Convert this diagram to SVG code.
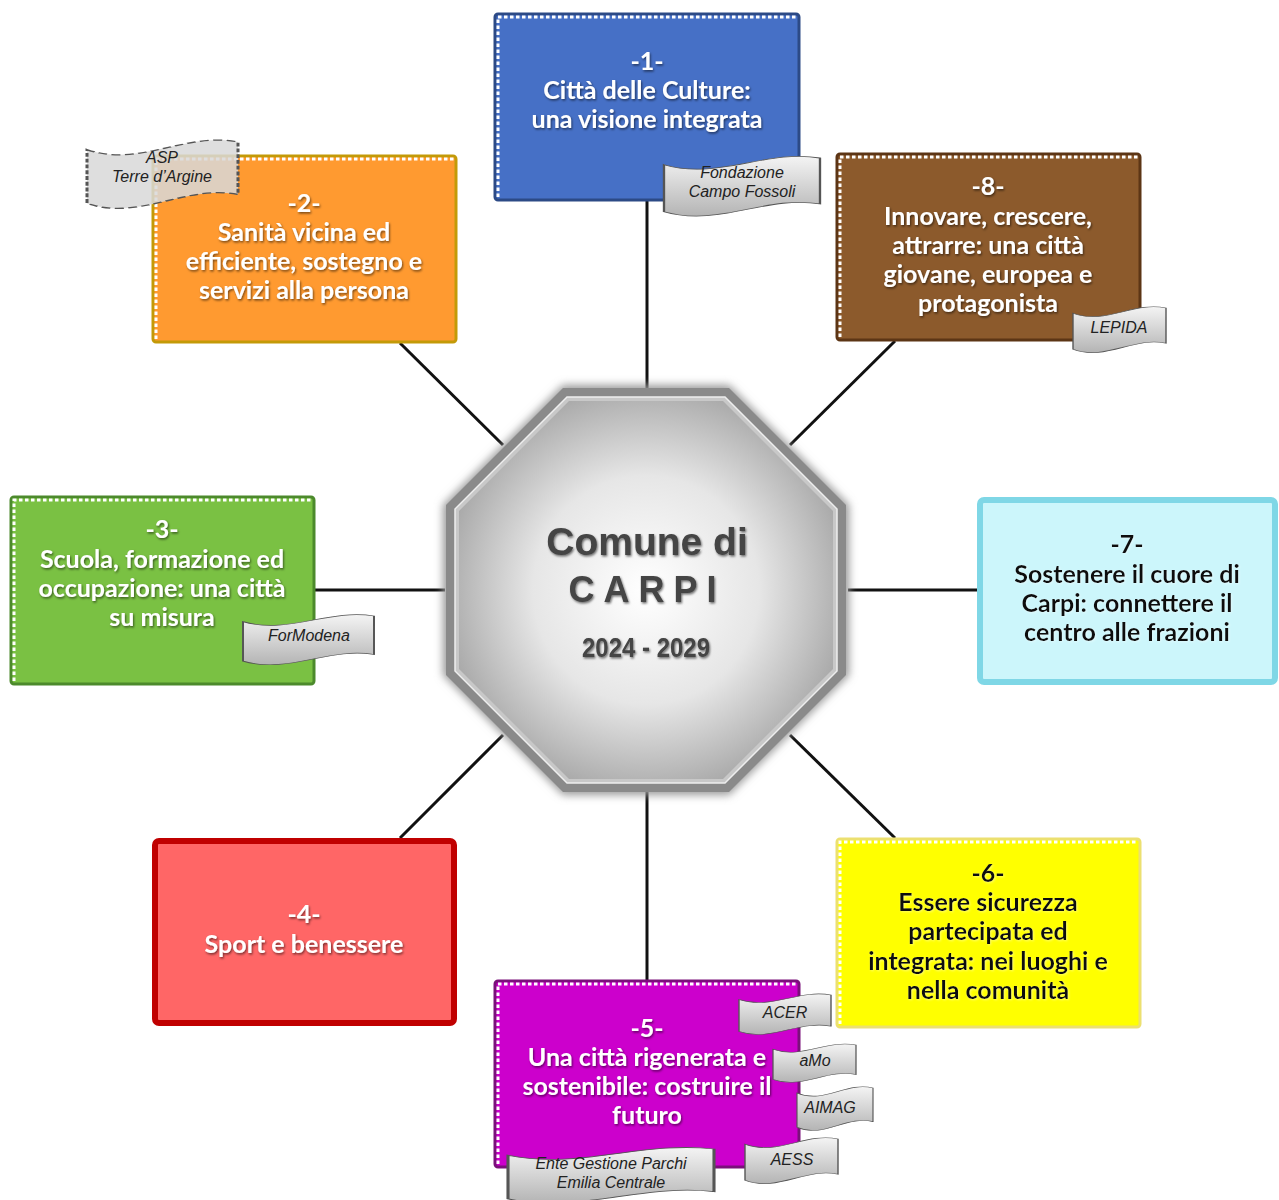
<svg xmlns="http://www.w3.org/2000/svg" xmlns:xlink="http://www.w3.org/1999/xlink" width="1279" height="1200" viewBox="0 0 1279 1200">
<style>
.t{font-family:Lato,"Liberation Sans",sans-serif;font-weight:bold;font-size:25px;text-anchor:middle;fill:#fff}
.tk{fill:#111}
.r{font-family:"Liberation Sans",Arial,sans-serif;font-style:italic;font-size:16px;text-anchor:middle;fill:#222}
.dot{fill:none;stroke:#fff;stroke-width:3;stroke-dasharray:3.5 2.5}
.con{stroke:#111;stroke-width:3;fill:none}
.rib{fill:url(#rg);stroke:#555;stroke-width:1.5}
</style>
<defs>
<filter id="sh" x="-10%" y="-20%" width="120%" height="140%"><feDropShadow dx="1" dy="1.5" stdDeviation="1" flood-color="#000" flood-opacity="0.55"/></filter>
<filter id="shl" x="-10%" y="-20%" width="120%" height="140%"><feDropShadow dx="1" dy="1" stdDeviation="0.8" flood-color="#fff" flood-opacity="0.4"/></filter>
<filter id="bl" x="-10%" y="-10%" width="120%" height="120%"><feGaussianBlur stdDeviation="4"/></filter>
<linearGradient id="rg" x1="0" y1="0" x2="0" y2="1"><stop offset="0" stop-color="#f4f4f4"/><stop offset="1" stop-color="#b4b4b4"/></linearGradient>
<radialGradient id="og" cx="0.5" cy="0.5" r="0.55"><stop offset="0" stop-color="#ffffff"/><stop offset="0.55" stop-color="#e6e6e6"/><stop offset="1" stop-color="#a8a8a8"/></radialGradient>
<path id="wave" d="M0,12 C35,40 65,-16 100,0 L100,82 C65,66 35,124 0,96 Z"/>
</defs>

<g id="connectors">
<line class="con" x1="647" y1="201" x2="647" y2="390"/>
<line class="con" x1="647" y1="792" x2="647" y2="980"/>
<line class="con" x1="315" y1="590" x2="445" y2="590"/>
<line class="con" x1="848" y1="590" x2="977" y2="590"/>
<line class="con" x1="400" y1="343" x2="503" y2="445"/>
<line class="con" x1="895" y1="341" x2="790" y2="445"/>
<line class="con" x1="400" y1="838" x2="503" y2="735"/>
<line class="con" x1="895" y1="838" x2="790" y2="735"/>
</g>

<g id="center">
<polygon points="563,385 729,385 849,505 849,675 729,795 563,795 443,675 443,505" fill="#999" filter="url(#bl)"/>
<polygon points="563,388 729,388 846,505 846,675 729,792 563,792 446,675 446,505" fill="#8a8a8a"/>
<polygon points="567,397 725,397 837,509 837,671 725,783 567,783 455,671 455,509" fill="#c8c8c8" stroke="#eeeeee" stroke-width="1.5"/>
<polygon points="569,401 723,401 833,511 833,669 723,779 569,779 459,669 459,511" fill="url(#og)"/>
<g filter="url(#sh)" fill="#444" font-family="Liberation Sans,Arial,sans-serif" font-weight="bold" text-anchor="middle">
<text x="647" y="555" font-size="39">Comune di</text>
<text x="647" y="602" font-size="36" letter-spacing="9">CARPI</text>
<text x="646" y="657" font-size="28" textLength="128" lengthAdjust="spacingAndGlyphs">2024 - 2029</text>
</g>
</g>

<g id="box1">
<rect x="495" y="14" width="304" height="186" rx="3" fill="#4670c6" stroke="#2c4a86" stroke-width="3"/>
<polyline class="dot" points="498,197 498,17 797,17"/>
<g filter="url(#sh)"><text class="t" x="647" y="70">-1-</text><text class="t" x="647" y="99">Città delle Culture:</text><text class="t" x="647" y="128">una visione integrata</text></g>
<use href="#wave" class="rib" transform="translate(664,158) scale(1.56,0.56)" stroke-width="2.6"/>
<text class="r" x="742" y="178">Fondazione</text><text class="r" x="742" y="197">Campo Fossoli</text>
</g>

<g id="box2">
<rect x="153" y="156" width="303" height="186" rx="3" fill="#ff9a30" stroke="#c39a08" stroke-width="3"/>
<polyline class="dot" points="156,339 156,159 454,159" stroke="#fff8c0"/>
<g filter="url(#sh)"><text class="t" x="304" y="212">-2-</text><text class="t" x="304" y="241">Sanità vicina ed</text><text class="t" x="304" y="270">efficiente, sostegno e</text><text class="t" x="304" y="299">servizi alla persona</text></g>
<use href="#wave" transform="translate(87,142) scale(1.51,0.64)" fill="#d8d8d8" fill-opacity="0.85" stroke="#555" stroke-width="2" stroke-dasharray="6 3"/>
<text class="r" x="162" y="163">ASP</text><text class="r" x="162" y="182">Terre d’Argine</text>
</g>

<g id="box8">
<rect x="837" y="154" width="303" height="186" rx="3" fill="#8c5a2c" stroke="#5c3515" stroke-width="3"/>
<polyline class="dot" points="840,337 840,157 1138,157"/>
<g filter="url(#sh)"><text class="t" x="988" y="195">-8-</text><text class="t" x="988" y="225">Innovare, crescere,</text><text class="t" x="988" y="254">attrarre: una città</text><text class="t" x="988" y="283">giovane, europea e</text><text class="t" x="988" y="312">protagonista</text></g>
<use href="#wave" class="rib" transform="translate(1073,308) scale(0.93,0.43)" stroke-width="3.5"/>
<text class="r" x="1119" y="333">LEPIDA</text>
</g>

<g id="box3">
<rect x="11" y="497" width="303" height="187" rx="3" fill="#7ac143" stroke="#4c8a2c" stroke-width="3"/>
<polyline class="dot" points="14,681 14,500 312,500"/>
<g filter="url(#sh)"><text class="t" x="162" y="538">-3-</text><text class="t" x="162" y="568">Scuola, formazione ed</text><text class="t" x="162" y="597">occupazione: una città</text><text class="t" x="162" y="626">su misura</text></g>
<use href="#wave" class="rib" transform="translate(243,616) scale(1.31,0.47)" stroke-width="3"/>
<text class="r" x="309" y="641">ForModena</text>
</g>

<g id="box7">
<rect x="980" y="500" width="295" height="182" rx="4" fill="#ccf6fb" stroke="#7fd7e6" stroke-width="6"/>
<g filter="url(#shl)"><text class="t tk" x="1127" y="553">-7-</text><text class="t tk" x="1127" y="583">Sostenere il cuore di</text><text class="t tk" x="1127" y="612">Carpi: connettere il</text><text class="t tk" x="1127" y="641">centro alle frazioni</text></g>
</g>

<g id="box4">
<rect x="155" y="841" width="299" height="182" rx="4" fill="#ff6666" stroke="#c00000" stroke-width="6"/>
<g filter="url(#sh)"><text class="t" x="304" y="923">-4-</text><text class="t" x="304" y="953">Sport e benessere</text></g>
</g>

<g id="box6">
<rect x="837" y="839" width="303" height="188" rx="3" fill="#ffff00" stroke="#ece070" stroke-width="3"/>
<polyline class="dot" points="840,1024 840,842 1138,842" stroke="#fffbe0"/>
<g filter="url(#shl)"><text class="t tk" x="988" y="882">-6-</text><text class="t tk" x="988" y="911">Essere sicurezza</text><text class="t tk" x="988" y="940">partecipata ed</text><text class="t tk" x="988" y="970">integrata: nei luoghi e</text><text class="t tk" x="988" y="999">nella comunità</text></g>
</g>

<g id="box5">
<rect x="495" y="981" width="304" height="186" rx="3" fill="#cc00cc" stroke="#7a107a" stroke-width="3"/>
<polyline class="dot" points="498,1164 498,984 797,984"/>
<g filter="url(#sh)"><text class="t" x="647" y="1037">-5-</text><text class="t" x="647" y="1066">Una città rigenerata e</text><text class="t" x="647" y="1095">sostenibile: costruire il</text><text class="t" x="647" y="1124">futuro</text></g>
<use href="#wave" class="rib" transform="translate(739,995) scale(0.92,0.38)" stroke-width="3.5"/>
<text class="r" x="785" y="1018">ACER</text>
<use href="#wave" class="rib" transform="translate(773,1045) scale(0.83,0.36)" stroke-width="3.5"/>
<text class="r" x="815" y="1066">aMo</text>
<use href="#wave" class="rib" transform="translate(797,1088) scale(0.76,0.41)" stroke-width="3.5"/>
<text class="r" x="830" y="1113">AIMAG</text>
<use href="#wave" class="rib" transform="translate(745,1139) scale(0.93,0.43)" stroke-width="3.5"/>
<text class="r" x="792" y="1165">AESS</text>
<use href="#wave" class="rib" transform="translate(508,1149) scale(2.06,0.52)" stroke-width="2"/>
<text class="r" x="611" y="1169">Ente Gestione Parchi</text><text class="r" x="611" y="1188">Emilia Centrale</text>
</g>
</svg>
